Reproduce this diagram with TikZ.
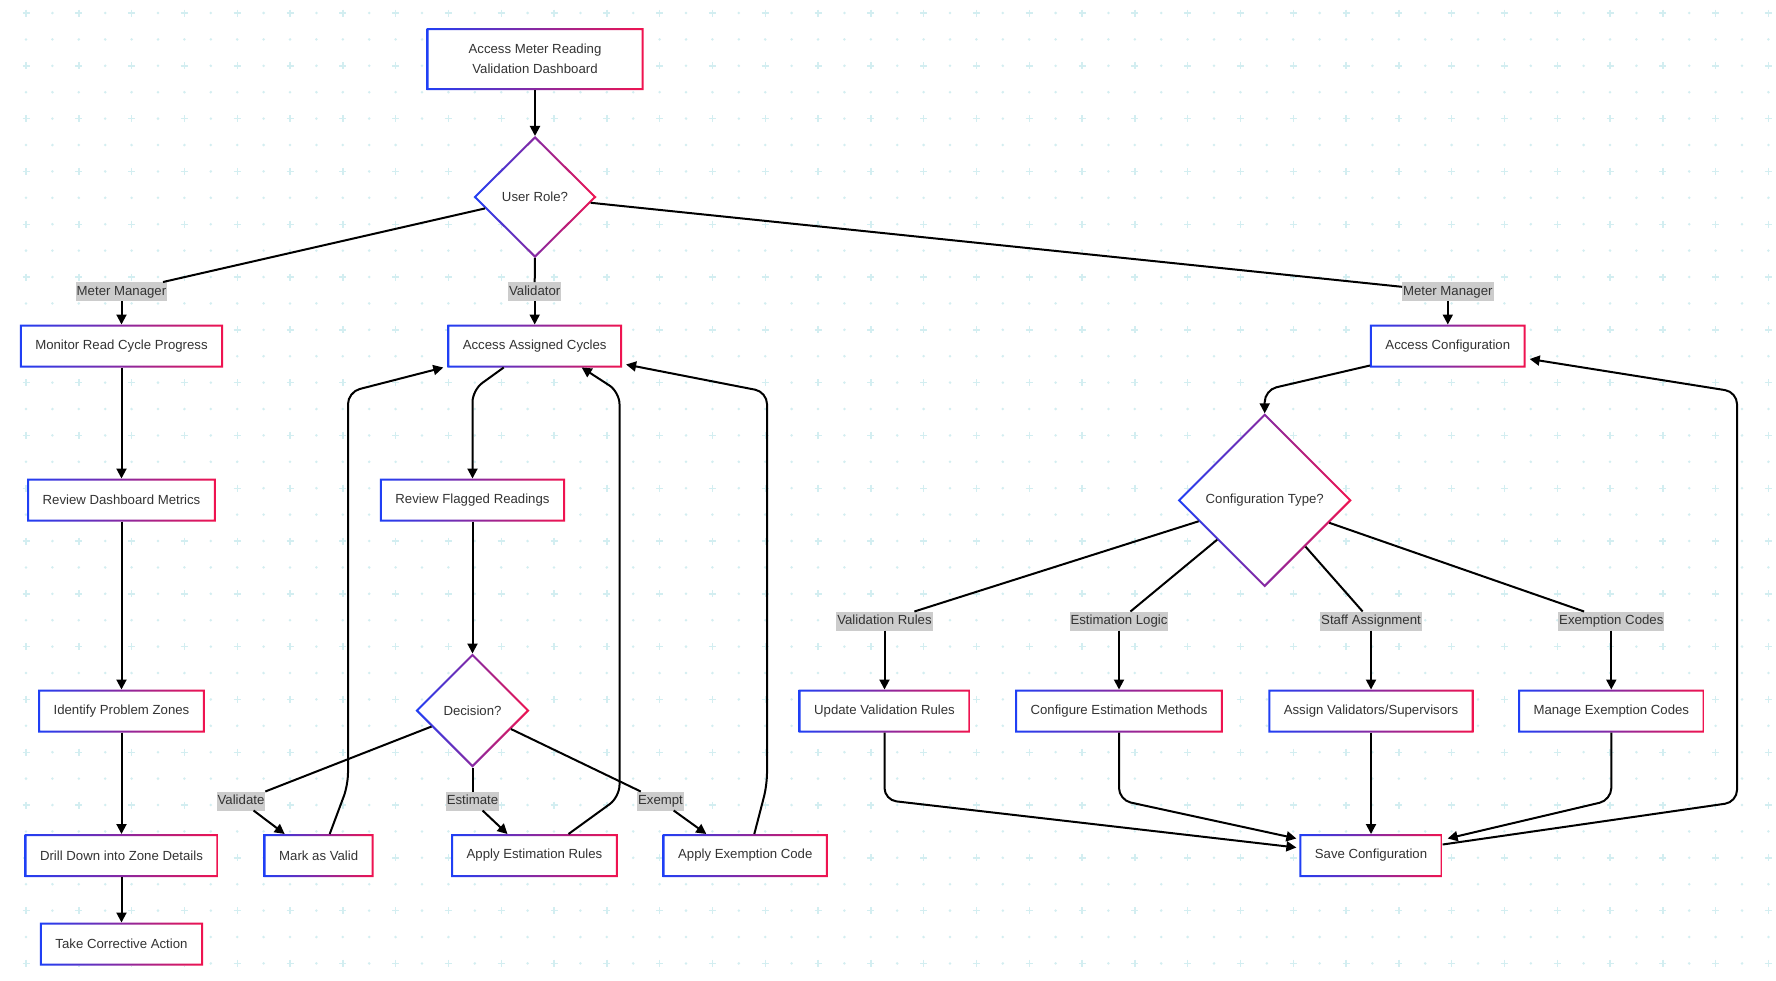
\documentclass[tikz,border=0pt]{standalone}
\usepackage{fontspec}
\setmainfont{Liberation Sans}
\usetikzlibrary{shapes.geometric,arrows.meta}

\definecolor{bordL}{HTML}{1F3FF5}
\definecolor{bordR}{HTML}{F0134F}
\definecolor{txt}{HTML}{333333}
\definecolor{lblbg}{HTML}{CCCCCC}
\definecolor{dotc}{HTML}{D3EEF1}

\newcommand{\gradrect}[1]{\shade[even odd rule, left color=bordL, right color=bordR] (#1.south west) rectangle (#1.north east) ([shift={(2pt,2pt)}]#1.south west) rectangle ([shift={(-2pt,-2pt)}]#1.north east);}
\newcommand{\graddiamond}[1]{\shade[even odd rule, left color=bordL, right color=bordR] (#1.north) -- (#1.east) -- (#1.south) -- (#1.west) -- cycle ([yshift=-2.8pt]#1.north) -- ([xshift=-2.8pt]#1.east) -- ([yshift=2.8pt]#1.south) -- ([xshift=2.8pt]#1.west) -- cycle;}

\begin{document}
\begin{tikzpicture}[x=1pt,y=-1pt]
			\tikzstyle{every node}=[font=\fontsize{13.2}{20}\selectfont, text=txt, outer sep=0pt]
			\tikzstyle{box}=[rectangle, fill=white, inner xsep=15.5pt, minimum height=43pt, align=center]
			\tikzstyle{kite}=[diamond, fill=white, inner sep=0pt]
			\tikzstyle{lbl}=[fill=lblbg, inner xsep=1pt, inner ysep=2pt, text height=11pt, text depth=4pt]
			\tikzstyle{ln}=[line width=2pt]
			\tikzstyle{arr}=[line width=2pt, -{Triangle[length=10pt,width=10pt]}]
			\useasboundingbox (0,0) rectangle (1776,980);
			\fill[white] (0,0) rectangle (1776,980);
			\foreach \i in {0,...,33}{
				\foreach \j in {0,...,18}{
					\pgfmathsetmacro\gx{26+52.8*\i}
					\pgfmathsetmacro\gy{13+52.8*\j}
					\draw[dotc, line width=1.4pt] (\gx-3.5,\gy) -- (\gx+3.5,\gy) (\gx,\gy-3.5) -- (\gx,\gy+3.5);
					\fill[dotc] (\gx+26.4,\gy) circle (1.4pt) (\gx,\gy+26.4) circle (1.4pt) (\gx+26.4,\gy+26.4) circle (1.4pt);
				}
			}
			\node[box, minimum width=217pt, minimum height=62pt] (Acc) at (535,59) {Access Meter Reading\\Validation Dashboard};
			\node[kite, minimum width=123pt, minimum height=122pt] (Role) at (535,197) {User Role?};
			\node[box] (Mon) at (121.5,346) {Monitor Read Cycle Progress};
			\node[box] (Asg) at (534.7,346) {Access Assigned Cycles};
			\node[box] (Cfg) at (1447.8,346) {Access Configuration};
			\node[box] (Dash) at (121.5,500) {Review Dashboard Metrics};
			\node[box] (Flag) at (472.5,500) {Review Flagged Readings};
			\node[kite, minimum width=174pt, minimum height=174pt] (CType) at (1264.7,500.3) {Configuration Type?};
			\node[box] (Zone) at (121.5,711) {Identify Problem Zones};
			\node[kite, minimum width=114pt, minimum height=114pt] (Dec) at (472.5,710.5) {Decision?};
			\node[box] (UpdV) at (884.5,711) {Update Validation Rules};
			\node[box] (ConfE) at (1119,711) {Configure Estimation Methods};
			\node[box] (AsgV) at (1371,711) {Assign Validators/Supervisors};
			\node[box] (ManE) at (1611.3,711) {Manage Exemption Codes};
			\node[box] (Drill) at (121.5,855.5) {Drill Down into Zone Details};
			\node[box] (Valid) at (318.7,855.5) {Mark as Valid};
			\node[box] (EstR) at (534.5,855.5) {Apply Estimation Rules};
			\node[box] (ExmC) at (745.3,855.5) {Apply Exemption Code};
			\node[box] (Save) at (1371,855.5) {Save Configuration};
			\node[box] (Act) at (121.5,944) {Take Corrective Action};
			\foreach \n in {Acc,Mon,Asg,Cfg,Dash,Flag,Zone,UpdV,ConfE,AsgV,ManE,Drill,Valid,EstR,ExmC,Save,Act}{\gradrect{\n}}
			\foreach \n in {Role,CType,Dec}{\graddiamond{\n}}
			\node[lbl] (L1) at (121.5,291.5) {Meter Manager};
			\node[lbl] (L2) at (534.7,291.5) {Validator};
			\node[lbl] (L3) at (1447.8,291.5) {Meter Manager};
			\node[lbl] (L4) at (884.5,621) {Validation Rules};
			\node[lbl] (L5) at (1119,621) {Estimation Logic};
			\node[lbl] (L6) at (1371,621) {Staff Assignment};
			\node[lbl] (L7) at (1611.3,621) {Exemption Codes};
			\node[lbl] (L8) at (241,801) {Validate};
			\node[lbl] (L9) at (472.5,801) {Estimate};
			\node[lbl] (L10) at (660.5,801) {Exempt};
			\coordinate (B1) at (472.5,390);
			\coordinate (B2) at (348,785);
			\coordinate (B3) at (348,392);
			\coordinate (B4) at (619.5,797);
			\coordinate (B5) at (619.5,392);
			\coordinate (B6) at (767,785);
			\coordinate (B7) at (767,392);
			\coordinate (B8) at (1264.7,390);
			\coordinate (B9) at (884.5,800);
			\coordinate (B10) at (1119,800);
			\coordinate (B11) at (1611.3,800);
			\coordinate (B12) at (1737,802);
			\coordinate (B13) at (1737,392);
			\draw[arr] (Acc) -- (Role);
			\draw[ln] (Role) -- (L1);
			\draw[arr] (L1) -- (Mon);
			\draw[ln] (Role) -- (L2);
			\draw[arr] (L2) -- (Asg);
			\draw[ln] (Role) -- (L3);
			\draw[arr] (L3) -- (Cfg);
			\draw[arr] (Mon) -- (Dash);
			\draw[arr] (Dash) -- (Zone);
			\draw[arr] (Zone) -- (Drill);
			\draw[arr] (Drill) -- (Act);
			\draw[arr, rounded corners=12pt] ([xshift=-31pt]Asg.south) -- (B1) -- (Flag);
			\draw[arr] (Flag) -- (Dec);
			\draw[ln] (Dec) -- (L8);
			\draw[arr] (L8) -- ([xshift=-34pt]Valid.north);
			\draw[ln] (Dec) -- (L9);
			\draw[arr] (L9) -- ([xshift=-27pt]EstR.north);
			\draw[ln] (Dec) -- (L10);
			\draw[arr] (L10) -- ([xshift=-39pt]ExmC.north);
			\draw[arr, rounded corners=12pt] ([xshift=11pt]Valid.north) -- (B2) -- (B3) -- ([xshift=-4pt]Asg.south west);
			\draw[arr, rounded corners=12pt] ([xshift=34pt]EstR.north) -- (B4) -- (B5) -- ([xshift=47pt]Asg.south);
			\draw[arr, rounded corners=12pt] ([xshift=9pt]ExmC.north) -- (B6) -- (B7) -- ([xshift=4pt,yshift=3pt]Asg.south east);
			\draw[arr, rounded corners=12pt] ([yshift=2pt]Cfg.south west) -- (B8) -- (CType.north);
			\draw[ln] (CType) -- (L4);
			\draw[arr] (L4) -- (UpdV);
			\draw[ln] (CType) -- (L5);
			\draw[arr] (L5) -- (ConfE);
			\draw[ln] (CType) -- (L6);
			\draw[arr] (L6) -- (AsgV);
			\draw[ln] (CType) -- (L7);
			\draw[arr] (L7) -- (ManE);
			\draw[arr, rounded corners=12pt] (UpdV.south) -- (B9) -- ([xshift=-3pt,yshift=8pt]Save.west);
			\draw[arr, rounded corners=12pt] (ConfE.south) -- (B10) -- ([xshift=-3pt,yshift=17pt]Save.west);
			\draw[arr] (AsgV) -- (Save);
			\draw[arr, rounded corners=12pt] (ManE.south) -- (B11) -- ([xshift=5pt,yshift=17pt]Save.east);
			\draw[arr, rounded corners=12pt] ([yshift=11pt]Save.east) -- (B12) -- (B13) -- ([xshift=4pt,yshift=-13pt]Cfg.east);
	\end{tikzpicture}
\end{document}
